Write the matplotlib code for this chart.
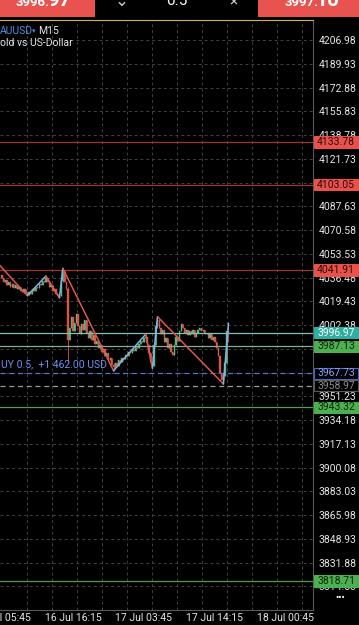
import numpy as np
import matplotlib.pyplot as plt
from matplotlib.patches import Rectangle
from matplotlib.transforms import blended_transform_factory

plt.rcParams['font.family'] = ['Roboto', 'DejaVu Sans']

# XAUUSD M15 closes, bar 0 = 16 Jul 05:45
closes = [4036, 4033, 4035, 4031, 4033, 4030, 4032, 4029, 4031, 4028, 4030, 4027, 4026, 4028, 4025, 4024,
          4026, 4025, 4028, 4027, 4030, 4029, 4032, 4031, 4034, 4033, 4036,
          4033, 4030, 4031, 4027, 4028, 4025, 4023, 4023,
          4034, 4041,
          4033, 4028, 3992, 4000, 4008, 3998, 4004, 4010, 4002, 3996, 4003, 3999, 4006, 3997, 3993, 3998,
          3992, 3995, 3989, 3991, 3986, 3988, 3983, 3985, 3980, 3982, 3977, 3979, 3974, 3972,
          3975, 3973, 3977, 3976, 3979, 3978, 3981, 3980, 3983, 3982, 3985, 3984, 3987, 3986, 3989, 3991,
          3990, 3993, 3994,
          3988, 3982, 3976, 3973,
          3988, 4002, 4006,
          4000, 3996, 3999, 3990, 3993, 3986, 3989, 3983, 3981, 3988, 3994, 3991, 3998, 4003, 4000, 3997,
          3999, 3995, 3998, 3996, 3999, 3994, 3997, 3999, 4000, 3998, 3999, 3996, 3997, 3993, 3996, 3992,
          3994, 3990, 3986,
          3980, 3968, 3963, 3966, 3975, 3998, 3996.97]
first_open = 4038
# bar: (high, low) where the wick sticks out
wicks = {15: (4027, 4023.5), 26: (4037.6, 4033), 34: (4026, 4022.0), 36: (4043.1, 4033),
         39: (4030, 3975), 66: (3975, 3969.6), 85: (3995.8, 3990), 89: (3976, 3971.4),
         92: (4008.4, 4000), 131: (3968, 3960.1), 134: (4003.7, 3990)}

# zigzag pivots
zz_bars = [-6, 15, 26, 34, 36, 66, 85, 89, 92, 131, 134]
zz_prices = [4051.5, 4023.5, 4037.6, 4022.0, 4043.1, 3969.6, 3995.8, 3971.4, 4008.4, 3960.1, 4003.7]

price_ticks = [4206.98, 4189.93, 4172.88, 4155.83, 4138.78, 4121.73, 4104.68, 4087.63, 4070.58,
               4053.53, 4036.48, 4019.43, 4002.38, 3985.33, 3968.28, 3951.23, 3934.18, 3917.13,
               3900.08, 3883.03, 3865.98, 3848.93, 3831.88, 3814.83]
time_ticks = [0, 42, 84, 126, 168]
time_labels = ['16 Jul 05:45', '16 Jul 16:15', '17 Jul 03:45', '17 Jul 14:15', '18 Jul 00:45']

levels = [4133.78, 4103.05, 4041.91, 3996.97, 3987.13, 3967.73, 3958.97, 3943.32, 3818.71]
level_kinds = ['red', 'red', 'red', 'bid', 'green_pale', 'position', 'gray', 'green', 'green']

# kind: line color, linestyle, box face, box edge, text color
styles = {
    'red': ('#9e3531', '-', '#e8524a', '#e8524a', '#2b0808'),
    'bid': ('#7cc3b8', '-', '#2eaf9f', '#2eaf9f', '#ffffff'),
    'green_pale': ('#86ad90', '-', '#4caf50', '#4caf50', '#0c260c'),
    'green': ('#4f9f53', '-', '#4caf50', '#4caf50', '#0c260c'),
    'position': ('#5773d8', (0, (4, 3)), '#000000', '#4a66d0', '#8aa2f5'),
    'gray': ('#9a9a9a', (0, (4, 3)), '#000000', '#5a5a5a', '#8c8c8c'),
}

W, H = 359, 625
fig = plt.figure(figsize=(W / 100, H / 100), dpi=100, facecolor='black')
ax = fig.add_axes([0, 15 / H, 313 / W, 590 / H], facecolor='black')
ax.set_xlim(-1.18, 184.0)
ax.set_ylim(3797.9, 4221.33)

# grid
for p in price_ticks:
    ax.axhline(p, color='#414141', lw=0.7, ls=(0, (3, 3)), zorder=0)
for k in range(12):
    ax.axvline(14.8 + k * 14.8, color='#414141', lw=0.7, ls=(0, (3, 3)), zorder=0)

# candles
opens = [first_open] + closes[:-1]
for i, (o, c) in enumerate(zip(opens, closes)):
    hi, lo = wicks.get(i, (max(o, c), min(o, c)))
    col = '#5cb87e' if c >= o else '#d9534f'
    ax.vlines(i, lo, hi, color=col, lw=0.6, zorder=2)
    ax.bar(i, max(abs(c - o), 0.4), bottom=min(o, c), width=0.75, color=col,
           edgecolor=col, lw=0.3, zorder=2)

# zigzag
for j in range(len(zz_bars) - 1):
    up = zz_prices[j + 1] > zz_prices[j]
    ax.plot(zz_bars[j:j + 2], zz_prices[j:j + 2], color='#7fb3ea' if up else '#e0554e',
            lw=1.1, zorder=4, solid_capstyle='round')

# level lines and price tags
tr = blended_transform_factory(ax.transAxes, ax.transData)
for lv, kind in zip(levels, level_kinds):
    lc, ls, fc, ec, tc = styles[kind]
    ax.axhline(lv, color=lc, lw=0.9, ls=ls, zorder=3)
    ax.add_patch(Rectangle((1.003, lv - 4.0), 44 / 313, 8.0, transform=tr, facecolor=fc,
                           edgecolor=ec, lw=0.8, clip_on=False, zorder=10))
    ax.text(1.0 + 23 / 313, lv, f'{lv:.2f}', transform=tr, ha='center', va='center',
            fontsize=7.5, color=tc, clip_on=False, zorder=11)

# axes
ax.set_yticks(price_ticks, [f'{p:.2f}' for p in price_ticks])
ax.yaxis.tick_right()
ax.tick_params(axis='y', length=0, pad=4, labelsize=7.5, labelcolor='#e6e6e6')
ax.set_xticks(time_ticks, time_labels)
ax.tick_params(axis='x', length=0, pad=2.5, labelsize=7.5, labelcolor='#e6e6e6')
ax.spines['left'].set_visible(False)
ax.spines['top'].set_color('#cdb35a')
ax.spines['right'].set_color('#5a5a5a')
ax.spines['bottom'].set_color('#5a5a5a')
for s in ['top', 'right', 'bottom']:
    ax.spines[s].set_linewidth(0.8)

# chart texts
ax.text(0.002, 3970.5, 'UY 0.5,  +1 462.00 USD', transform=tr, fontsize=7.5, color='#6f8ff0',
        va='bottom', zorder=6)


def px(x, y):
    return x / W, 1 - y / H


fig.text(*px(0, 31), 'AUUSD', fontsize=7.5, color='#4d8fe6', va='center')
fig.text(*px(32, 31), '▾', fontsize=5, color='#4d8fe6', va='center', family='DejaVu Sans')
fig.text(*px(38, 31), 'M15', fontsize=7.5, color='#e6e6e6', va='center')
fig.text(*px(0, 43), 'old vs US-Dollar', fontsize=7.5, color='#e6e6e6', va='center')
fig.text(*px(340, 598), '•••', fontsize=7, color='#ffffff', ha='center', va='center')

# header
fig.patches.append(Rectangle(px(0, 17), 95 / W, 17 / H, transform=fig.transFigure,
                             facecolor='#e9534f', edgecolor='none'))
fig.patches.append(Rectangle(px(258, 17), 101 / W, 17 / H, transform=fig.transFigure,
                             facecolor='#e9534f', edgecolor='none'))
fig.text(*px(16, 6), '3996.', fontsize=9.5, weight='bold', color='white', va='baseline')
fig.text(*px(47, 6), '97', fontsize=15, weight='bold', color='white', va='baseline')
fig.text(*px(285, 6), '3997.', fontsize=9.5, weight='bold', color='white', va='baseline')
fig.text(*px(315, 6), '10', fontsize=15, weight='bold', color='white', va='baseline')
fig.text(*px(122, 1), '⌄', fontsize=12, color='#cccccc', ha='center', va='center',
         family='DejaVu Sans')
fig.text(*px(177, 5), '0.5', fontsize=11, color='white', ha='center', va='baseline')
fig.text(*px(233, 1), '×', fontsize=11, color='#cccccc', ha='center', va='center')

fig.savefig('out.png', dpi=100, facecolor='black')
